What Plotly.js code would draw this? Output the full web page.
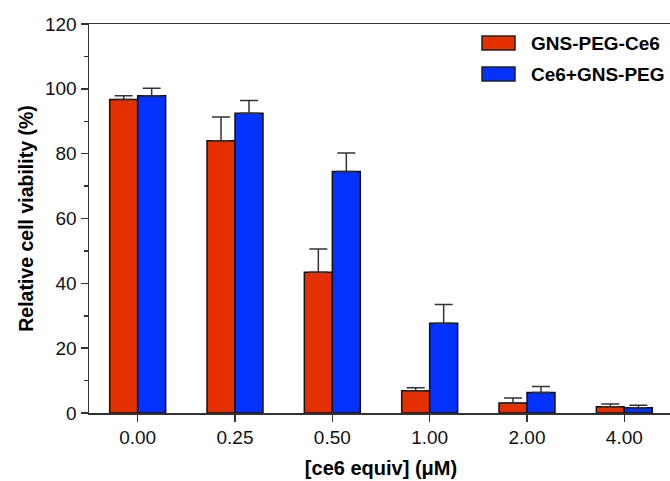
<!DOCTYPE html>
<html>
<head>
<meta charset="utf-8">
<script src="https://cdn.plot.ly/plotly-3.0.1.min.js"></script>
<style>
html,body{margin:0;padding:0;overflow:hidden;background:#fff;width:670px;height:481px;}
#chart{width:680px;height:481px;}
</style>
</head>
<body>
<div id="chart"></div>
<script>
// ---- data ----
var categories = ["0.00", "0.25", "0.50", "1.00", "2.00", "4.00"];
var seriesNames = ["GNS-PEG-Ce6", "Ce6+GNS-PEG"];
var redValues  = [96.7, 84.0, 43.4, 6.9, 3.1, 1.9];
var redErrors  = [1.2, 7.3, 7.2, 0.9, 1.5, 0.9];
var blueValues = [97.9, 92.5, 74.5, 27.7, 6.3, 1.6];
var blueErrors = [2.3, 3.9, 5.7, 5.8, 1.9, 0.8];
var yTickVals  = [0, 20, 40, 60, 80, 100, 120];
var yTickText  = ["0", "20", "40", "60", "80", "100", "120"];

// ---- styles ----
var RED = "rgb(228,48,0)";
var BLUE = "rgb(3,50,255)";
var AX = "#333333";
var FONT = "Arial, 'Liberation Sans', Helvetica, sans-serif";

var W = 680, H = 481, ML = 89, MR = 7, MT = 24, MB = 68;
var PW = W - ML - MR, PH = H - MT - MB;
function px(x){ return (x - ML) / PW; }
function py(y){ return (H - MB - y) / PH; }

function errObj(arr){
  return {type:"data", symmetric:false, array:arr, arrayminus:arr.map(function(){return 0;}),
          color:AX, thickness:1.5, width:9, visible:true};
}

var traces = [
  {type:"bar", name:seriesNames[0], x:categories, y:redValues, error_y:errObj(redErrors),
   marker:{color:RED, line:{color:"#111", width:1.5}}, showlegend:false},
  {type:"bar", name:seriesNames[1], x:categories, y:blueValues, error_y:errObj(blueErrors),
   marker:{color:BLUE, line:{color:"#111", width:1.5}}, showlegend:false}
];

var legendRows = [
  {name:seriesNames[0], color:RED, y0:36, y1:50},
  {name:seriesNames[1], color:BLUE, y0:67, y1:81}
];
var shapes = [], annotations = [];
legendRows.forEach(function(r){
  shapes.push({type:"rect", xref:"paper", yref:"paper", x0:px(482), x1:px(515), y0:py(r.y1), y1:py(r.y0),
    fillcolor:r.color, line:{color:"#222", width:1.5}});
  annotations.push({xref:"paper", yref:"paper", x:px(529), y:py((r.y0+r.y1)/2), xanchor:"left", yanchor:"middle",
    text:"<b>"+r.name+"</b>", showarrow:false, font:{family:FONT, size:19, color:"#000"}});
});

var layout = {
  width:W, height:H,
  margin:{l:ML, r:MR, t:MT, b:MB, pad:0},
  paper_bgcolor:"#fff", plot_bgcolor:"#fff",
  barmode:"group", bargap:0.425, bargroupgap:0,
  font:{family:FONT, color:"#000"},
  xaxis:{type:"category", range:[-0.5, 5.5], showline:true, linecolor:AX, linewidth:1.5, mirror:true,
    ticks:"outside", ticklen:7, tickwidth:1.5, tickcolor:AX, showgrid:false, zeroline:false,
    tickfont:{family:FONT, size:19, color:"#111"},
    title:{text:"<b>[ce6 equiv] (μM)</b>", font:{family:FONT, size:20, color:"#000"}, standoff:13}},
  yaxis:{range:[0,120], showline:true, linecolor:AX, linewidth:1.5,
    ticks:"outside", ticklen:7, tickwidth:1.5, tickcolor:AX, showgrid:false, zeroline:false,
    tickvals:yTickVals, ticktext:yTickText,
    minor:{dtick:10, ticks:"outside", ticklen:4, tickwidth:1.5, tickcolor:AX, showgrid:false},
    tickfont:{family:FONT, size:19, color:"#111"},
    title:{text:"<b>Relative cell viability (%)</b>", font:{family:FONT, size:19.5, color:"#000"}, standoff:6}},
  shapes:shapes, annotations:annotations
};

Plotly.newPlot("chart", traces, layout, {staticPlot:true, displayModeBar:false});
</script>
</body>
</html>
